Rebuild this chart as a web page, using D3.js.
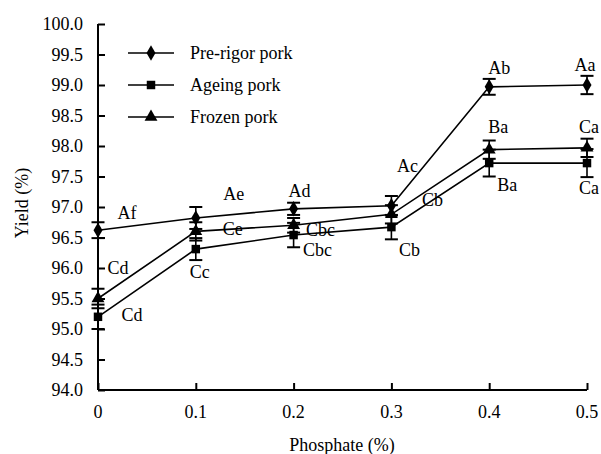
<!DOCTYPE html>
<html>
<head>
<meta charset="utf-8">
<script src="https://cdn.jsdelivr.net/npm/d3@7"></script>
<style>
  body { margin: 0; background: #fff; }
  svg { font-family: "Liberation Serif", "Times New Roman", serif; }
</style>
</head>
<body>
<div id="chart"></div>
<script>
// data
var phosphate = [0, 0.1, 0.2, 0.3, 0.4, 0.5];
var xTicks = ["0", "0.1", "0.2", "0.3", "0.4", "0.5"];
var yTicks = [94.0, 94.5, 95.0, 95.5, 96.0, 96.5, 97.0, 97.5, 98.0, 98.5, 99.0, 99.5, 100.0];

var preRigor = [96.62, 96.82, 96.97, 97.02, 98.97, 99.0];
var preRigorErr = [0.13, 0.18, 0.1, 0.16, 0.13, 0.15];
var preRigorLabels = ["Af", "Ae", "Ad", "Ac", "Ab", "Aa"];

var ageing = [95.2, 96.31, 96.54, 96.67, 97.72, 97.72];
var ageingErr = [0.2, 0.18, 0.2, 0.2, 0.22, 0.23];
var ageingLabels = ["Cd", "Cc", "Cbc", "Cb", "Ba", "Ca"];

var frozen = [95.5, 96.6, 96.7, 96.88, 97.94, 97.97];
var frozenErr = [0.16, 0.15, 0.12, 0.15, 0.15, 0.15];
var frozenLabels = ["Cd", "Ce", "Cbc", "Cb", "Ba", "Ca"];

// label placement relative to each point (px)
var preRigorOff = [[29, -11], [38, -18], [6, -12], [16, -34], [10, -13], [-2, -14]];
var ageingOff = [[34, 4], [4, 29], [24, 21], [18, 29], [18, 28], [2, 31]];
var frozenOff = [[20, -25], [37, 4], [27, 11], [41, -8], [9, -17], [2, -15]];

var width = 601, height = 454;
var margin = {top: 24, right: 14, bottom: 64, left: 98};
var fs = 18;

var svg = d3.select("#chart").append("svg")
    .attr("width", width)
    .attr("height", height);

var x = d3.scaleLinear()
    .domain([0, 0.5])
    .range([margin.left, width - margin.right]);

var y = d3.scaleLinear()
    .domain([94, 100])
    .range([height - margin.bottom, margin.top]);

// axes, ticks pointing inward
var yAxis = d3.axisRight(y).tickValues(yTicks).tickSize(7).tickFormat("");
var xAxis = d3.axisTop(x).tickValues(phosphate).tickSize(7).tickFormat("");

var gy = svg.append("g")
    .attr("transform", "translate(" + margin.left + ",0)")
    .call(yAxis);
var gx = svg.append("g")
    .attr("transform", "translate(0," + (height - margin.bottom) + ")")
    .call(xAxis);

[gx, gy].forEach(function(g) {
  g.select(".domain").attr("stroke", "#000").attr("stroke-width", 2);
  g.selectAll(".tick line").attr("stroke", "#000").attr("stroke-width", 2);
});
gy.select(".domain").attr("d", "M0," + y(100) + "V" + y(94));
gx.select(".domain").attr("d", "M" + x(0) + ",0H" + x(0.5));

svg.append("g").selectAll("text")
    .data(yTicks)
    .enter().append("text")
    .attr("x", margin.left - 15)
    .attr("y", function(d) { return y(d) + 6; })
    .attr("text-anchor", "end")
    .attr("font-size", fs)
    .text(function(d) { return d.toFixed(1); });

svg.append("g").selectAll("text")
    .data(phosphate)
    .enter().append("text")
    .attr("x", function(d) { return x(d); })
    .attr("y", height - margin.bottom + 28)
    .attr("text-anchor", "middle")
    .attr("font-size", fs)
    .text(function(d, i) { return xTicks[i]; });

svg.append("text")
    .attr("x", 342)
    .attr("y", 451)
    .attr("text-anchor", "middle")
    .attr("font-size", fs)
    .text("Phosphate (%)");

svg.append("text")
    .attr("transform", "translate(28,203) rotate(-90)")
    .attr("text-anchor", "middle")
    .attr("font-size", fs)
    .text("Yield (%)");

var symbols = {
  diamond: d3.symbol().type(d3.symbolDiamond).size(70),
  square: d3.symbol().type(d3.symbolSquare).size(72),
  triangle: d3.symbol().type(d3.symbolTriangle).size(72)
};

var series = [
  {name: "Pre-rigor pork", values: preRigor, err: preRigorErr, labels: preRigorLabels, off: preRigorOff, sym: "diamond"},
  {name: "Ageing pork", values: ageing, err: ageingErr, labels: ageingLabels, off: ageingOff, sym: "square"},
  {name: "Frozen pork", values: frozen, err: frozenErr, labels: frozenLabels, off: frozenOff, sym: "triangle"}
];

var line = d3.line()
    .x(function(d, i) { return x(phosphate[i]); })
    .y(function(d) { return y(d); });

var cap = 6.5;

series.forEach(function(s) {
  var g = svg.append("g");

  g.append("path")
      .attr("d", line(s.values))
      .attr("fill", "none")
      .attr("stroke", "#000")
      .attr("stroke-width", 1.6);

  var eb = g.selectAll(".err")
      .data(s.values)
      .enter().append("g");
  eb.append("line")
      .attr("x1", function(d, i) { return x(phosphate[i]); })
      .attr("x2", function(d, i) { return x(phosphate[i]); })
      .attr("y1", function(d, i) { return y(d - s.err[i]); })
      .attr("y2", function(d, i) { return y(d + s.err[i]); })
      .attr("stroke", "#000").attr("stroke-width", 1.6);
  [-1, 1].forEach(function(sign) {
    eb.append("line")
        .attr("x1", function(d, i) { return x(phosphate[i]) - cap; })
        .attr("x2", function(d, i) { return x(phosphate[i]) + cap; })
        .attr("y1", function(d, i) { return y(d + sign * s.err[i]); })
        .attr("y2", function(d, i) { return y(d + sign * s.err[i]); })
        .attr("stroke", "#000").attr("stroke-width", 2);
  });

  g.selectAll(".pt")
      .data(s.values)
      .enter().append("path")
      .attr("d", symbols[s.sym])
      .attr("transform", function(d, i) { return "translate(" + x(phosphate[i]) + "," + y(d) + ")"; })
      .attr("fill", "#000");

  g.selectAll(".lbl")
      .data(s.values)
      .enter().append("text")
      .attr("x", function(d, i) { return x(phosphate[i]) + s.off[i][0]; })
      .attr("y", function(d, i) { return y(d) + s.off[i][1]; })
      .attr("text-anchor", "middle")
      .attr("font-size", fs)
      .text(function(d, i) { return s.labels[i]; });
});

// legend
var legend = svg.append("g").attr("transform", "translate(128,53)");
series.forEach(function(s, i) {
  var row = legend.append("g").attr("transform", "translate(0," + (i * 32) + ")");
  row.append("line")
      .attr("x1", 0).attr("x2", 46)
      .attr("stroke", "#000").attr("stroke-width", 1.6);
  row.append("path")
      .attr("d", symbols[s.sym])
      .attr("transform", "translate(23,0)")
      .attr("fill", "#000");
  row.append("text")
      .attr("x", 62)
      .attr("y", 6)
      .attr("font-size", fs)
      .text(s.name);
});
</script>
</body>
</html>
